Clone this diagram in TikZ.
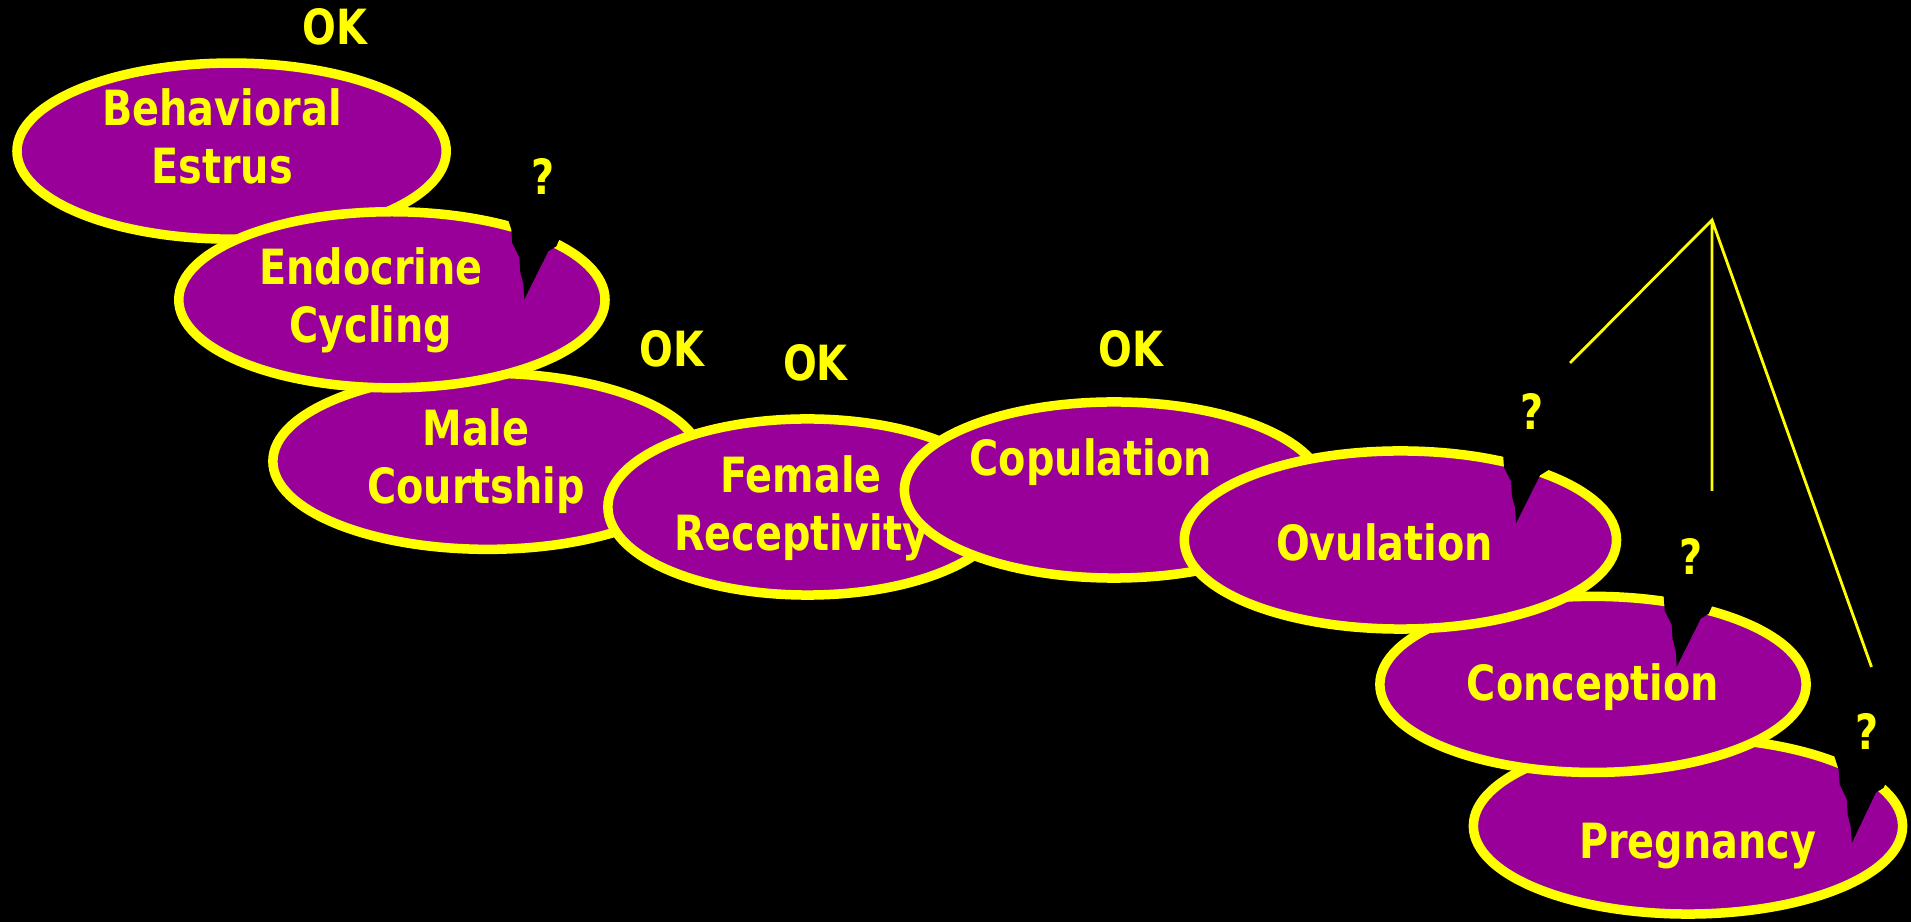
\documentclass[tikz,border=0pt]{standalone}
\usepackage{fontspec}
\newfontfamily\comicfont[FakeStretch=0.82]{DejaVu Sans}
\usetikzlibrary{shapes.geometric}
\definecolor{plum}{RGB}{153,0,153}
\definecolor{lemon}{RGB}{255,255,0}

\begin{document}
\begin{tikzpicture}[x=0.01cm, y=-0.01cm,
    blob/.style={ellipse, draw=lemon, fill=plum, line width=0.095cm, inner sep=0pt,
        minimum width=4.29cm, minimum height=1.76cm},
    word/.style={text=lemon, align=center, inner sep=0pt,
        font=\comicfont\bfseries\fontsize{13.8}{16.5}\selectfont},
    ray/.style={draw=lemon, line width=0.8pt},
    crack/.pic={\fill[black] (0,0) -- (-1,-16) -- (-4,-27) -- (-5,-42) -- (-12,-56)
        -- (-13,-70) -- (-17,-82) -- (-22,-105) -- (42,-95) -- (36,-62) -- (32,-53)
        -- (24,-48) -- cycle;}]
    \useasboundingbox (0,0) rectangle (1911,922);
    \fill[black] (0,0) rectangle (1911,922);

    \node[blob] (estrus) at (231.6,151.1) {};
    \node[blob] (courtship) at (487.5,461.3) {};
    \node[blob, minimum width=4.26cm] (cycling) at (391.9,299.8) {};
    \node[blob, minimum width=3.99cm] (receptivity) at (807.5,507) {};
    \node[blob, minimum width=4.19cm] (copulation) at (1114,490) {};
    \node[blob] (pregnancy) at (1688,826) {};
    \node[blob, minimum width=4.26cm] (conception) at (1593,684.4) {};
    \node[blob, minimum width=4.32cm, minimum height=1.78cm] (ovulation) at (1400.4,540) {};

    \pic at (524.3,299.3) {crack};
    \pic at (1516,523.3) {crack};
    \pic at (1676.7,666.7) {crack};
    \pic[yscale=1.05] at (1851.7,843.3) {crack};

    \coordinate (apex) at (1712,220);
    \coordinate (leftend) at (1570,363);
    \coordinate (midend) at (1712,491);
    \coordinate (rightend) at (1871.5,667);
    \draw[ray] (leftend) -- (apex) -- (rightend) (apex) -- (midend);

    \node[word] (estrusTxt) at (222,136) {Behavioral\\Estrus};
    \node[word] (cyclingTxt) at (371,300) {Endocrine\\Cycling};
    \node[word] (courtshipTxt) at (476,461) {Male\\Courtship};
    \node[word] (receptivityTxt) at (801,508) {Female\\Receptivity};
    \node[word] (copulationTxt) at (1090.8,462) {Copulation};
    \node[word] (ovulationTxt) at (1384.6,542) {Ovulation};
    \node[word] (conceptionTxt) at (1593,687) {Conception};
    \node[word] (pregnancyTxt) at (1697.8,846) {Pregnancy};

    \node[word] (okA) at (335,27) {OK};
    \node[word] (okB) at (671.6,348.6) {OK};
    \node[word] (okC) at (815.4,363.2) {OK};
    \node[word] (okD) at (1131,348.6) {OK};

    \node[word] (qA) at (543.5,176) {?};
    \node[word] (qB) at (1532,411) {?};
    \node[word] (qC) at (1691,556) {?};
    \node[word] (qD) at (1867,731) {?};
\end{tikzpicture}
\end{document}
